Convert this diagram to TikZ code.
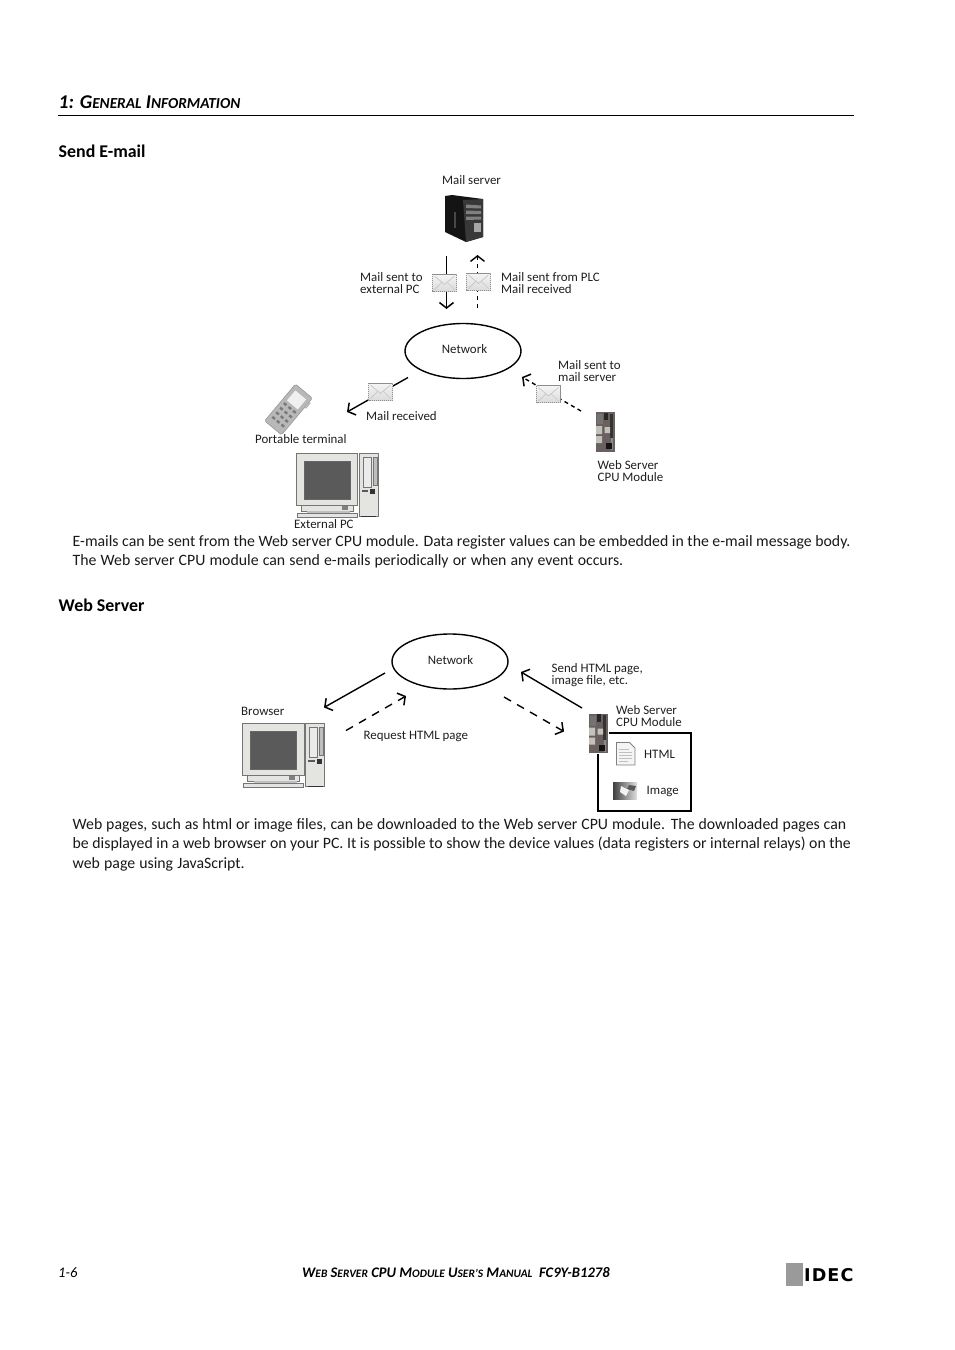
\documentclass[tikz,border=0pt]{standalone}
\usepackage{fontspec}
\setmainfont{Carlito}
\newfontfamily\logofont[LetterSpace=6]{DejaVu Sans}
\usetikzlibrary{arrows.meta,shapes.geometric}
\definecolor{envedge}{HTML}{8E8E8A}
\definecolor{modbody}{HTML}{6A6060}
\definecolor{modlight}{HTML}{C2C2B8}
\definecolor{pcface}{HTML}{E4E4E0}
\definecolor{pcscreen}{HTML}{5A5A5A}
\definecolor{pcedge}{HTML}{757575}
\definecolor{logogrey}{HTML}{9A9A9A}
\tikzset{
  x=1pt,y=-1pt,
  lbl/.style={inner sep=0pt,anchor=west,align=left,font=\fontsize{12.9}{12}\selectfont,text=black!88},
  body/.style={inner sep=0pt,anchor=north west,align=left,font=\fontsize{15.8}{19.5}\selectfont,text=black!90},
  head/.style={inner sep=0pt,anchor=base west,font=\bfseries\fontsize{17.9}{18}\selectfont,text=black},
  netw/.style={draw=black,line width=1.4pt,shape=ellipse,minimum width=116pt,minimum height=55pt,inner sep=0pt},
  solidarrow/.style={draw=black,line width=1.4pt,-{Straight Barb[length=5.5pt,width=14pt,line width=1.5pt]}},
  dasharrow/.style={draw=black,line width=1.4pt,dash pattern=on 8pt off 7pt,-{Straight Barb[length=5.5pt,width=14pt,line width=1.5pt]}},
  thinsolid/.style={solidarrow,line width=1.1pt},
  thindash/.style={draw=black,line width=1.1pt,dash pattern=on 4pt off 4pt,-{Straight Barb[length=5.5pt,width=14pt,line width=1.4pt]}},
  pics/envelope/.style={code={
    \shade[top color=black!4,bottom color=black!14] (-12,-8.5) rectangle (12,8.5);
    \draw[envedge,line width=.8pt,dash pattern=on 1.2pt off .8pt] (-12,-8.5) rectangle (12,8.5);
    \draw[black!22,line width=.7pt] (-10,-6.5) -- (0,2) -- (10,-6.5) (-10,7) -- (-3,0) (10,7) -- (3,0);
  }},
  pics/pcset/.style={code={
    \fill[pcface,draw=pcedge,line width=.8pt] (0,0) rectangle (61.5,52);
    \fill[pcscreen,draw=black!60,line width=.5pt] (8,8) rectangle (54,46);
    \fill[pcface,draw=pcedge,line width=.7pt] (5,52) rectangle (57,58);
    \fill[black!25] (11,58) rectangle (54,60);
    \fill[pcface,draw=pcedge,line width=.7pt] (1,60) rectangle (61,64);
    \fill[black!50] (46,53) rectangle (52,57);
    \fill[pcface,draw=pcedge,line width=.8pt] (63,0) rectangle (82,63.5);
    \fill[black!8,draw=pcedge,line width=.5pt] (67,4) rectangle (75,34);
    \fill[black!25,draw=pcedge,line width=.4pt] (77,4) rectangle (81,32);
    \fill[black!65] (65.5,37) rectangle (72,39);
    \fill[black!80] (74,35.5) rectangle (79,41);
    \fill[black!80] (65,62.5) rectangle (80,64);
  }},
  pics/cpumodule/.style={code={
    \fill[modbody] (0.5,0) rectangle (19.5,39.5);
    \fill[black!85] (9,0.5) rectangle (13,8);
    \fill[black!80] (15,1.5) rectangle (18,26);
    \fill[black!45] (15.5,26) rectangle (18,38);
    \fill[modlight] (1,14) rectangle (7,22) (1,24) rectangle (7,31) (9.5,15) rectangle (15,21);
    \fill[black!92] (11,31) rectangle (17,37);
    \fill[black!55] (2,2) rectangle (8,12);
  }}
}
\begin{document}
\begin{tikzpicture}
\useasboundingbox (0,0) rectangle (954,1350);
\fill[white] (0,0) rectangle (954,1350);

% header
\node[head,font=\bfseries\itshape\fontsize{19.5}{19.5}\selectfont] (title) at (58.5,108) {1: G{\fontsize{15.3}{15.3}\selectfont ENERAL} I{\fontsize{15.3}{15.3}\selectfont NFORMATION}};
\coordinate (ruleL) at (58,115.5);
\coordinate (ruleR) at (854,115.5);
\draw[black,line width=.8pt] (ruleL) -- (ruleR);
\node[head] (h1) at (58.5,157) {Send E-mail};
\node[head] (h2) at (58.5,611) {Web Server};

% ---- Send e-mail diagram ----
\node[lbl] (lmail) at (442,180) {Mail server};
\fill[black!92] (445,196) -- (452,195) -- (483,199) -- (483,237) -- (466,242) -- (445,232) -- cycle;
\fill[black!78] (463,200) -- (483,199) -- (483,237) -- (466,242) -- cycle;
\fill[black!72] (454,212) -- (456,212) -- (456,228) -- (454,228) -- cycle;
\fill[black!50] (466,204.5) -- (481,205.5) -- (481,208.5) -- (466,208) -- cycle
  (466,210.5) -- (481,211) -- (481,214) -- (466,214) -- cycle
  (466,216.5) -- (481,216.5) -- (481,219.5) -- (466,220) -- cycle;
\fill[black!35] (474,223) rectangle (481,232);

\coordinate (a1s) at (446.5,256);
\coordinate (a1e) at (446.5,309);
\coordinate (a2s) at (477.5,308);
\coordinate (a2e) at (477.5,255);
\draw[thinsolid] (a1s) -- (a1e);
\draw[thindash] (a2s) -- (a2e);
\pic at (444.5,282.5) {envelope};
\pic at (478.5,281.5) {envelope};
\node[lbl] (lext) at (360,283) {Mail sent to\\external PC};
\node[lbl] (lfrom) at (501,283) {Mail sent from PLC\\Mail received};

\node[netw] (net1) at (463,351) {};
\node[lbl,anchor=center] (lnet1) at (464.5,349) {Network};

\coordinate (a3s) at (408,377.5);
\coordinate (a3e) at (347,412);
\coordinate (a4s) at (581,411);
\coordinate (a4e) at (522,377);
\draw[solidarrow] (a3s) -- (a3e);
\draw[dasharrow,dash pattern=on 4pt off 3.5pt] (a4s) -- (a4e);
\pic at (380.5,391.5) {envelope};
\pic at (548.5,394) {envelope};
\node[lbl] (lrec) at (366,416) {Mail received};
\node[lbl] (lsrv) at (558,371) {Mail sent to\\mail server};

\begin{scope}[shift={(288.5,409.5)},rotate=-40]
\fill[black!28,draw=black!40,line width=.6pt,rounded corners=1.5pt] (-11,-24) rectangle (11,24);
\fill[black!28] (11,-19) rectangle (13,-12);
\fill[black!6] (-7,-19) rectangle (7,-6);
\foreach \yy in {-2,4,10,16}{\foreach \xx in {-6,0,6}{\fill[black!52] (\xx-1.7,\yy-1.2) rectangle (\xx+1.7,\yy+1.2);}}
\end{scope}
\node[lbl] (lport) at (255,439) {Portable terminal};
\pic at (296,453) {pcset};
\node[lbl] (lpc) at (294,524) {External PC};
\pic at (595,412) {cpumodule};
\node[lbl] (lweb1) at (597.5,471) {Web Server\\CPU Module};

\node[body] (p1) at (72.5,535) {E-mails can be sent from the Web server CPU module. Data register values can be embedded in the e-mail message body.\\\makebox[550.5pt][s]{The Web server CPU module can send e-mails periodically or when any event occurs.}};

% ---- Web server diagram ----
\node[netw] (net2) at (450,661.5) {};
\node[lbl,anchor=center] (lnet2) at (450.5,660) {Network};
\coordinate (b1s) at (385,673);
\coordinate (b1e) at (324,707.5);
\coordinate (b2s) at (346,730.5);
\coordinate (b2e) at (406,696);
\coordinate (b3s) at (504,697);
\coordinate (b3e) at (564,731.5);
\coordinate (b4s) at (582,708);
\coordinate (b4e) at (521,672);
\draw[solidarrow] (b1s) -- (b1e);
\draw[dasharrow] (b2s) -- (b2e);
\draw[dasharrow] (b3s) -- (b3e);
\draw[solidarrow] (b4s) -- (b4e);
\node[lbl] (lbrow) at (241,711.5) {Browser};
\pic at (242.5,723) {pcset};
\node[lbl] (lreq) at (363.5,736) {Request HTML page};
\node[lbl] (lsend) at (551.5,675) {Send HTML page,\\image file, etc.};
\node[lbl] (lweb2) at (616,716) {Web Server\\CPU Module};
\pic at (588,713.5) {cpumodule};
\coordinate (bx0) at (609,733);
\coordinate (bx1) at (690.5,733);
\coordinate (bx2) at (690.5,810.5);
\coordinate (bx3) at (597.5,810.5);
\coordinate (bx4) at (597.5,754);
\draw[black,line width=2pt] (bx0) -- (bx1) -- (bx2) -- (bx3) -- (bx4);
\fill[black!4,draw=black!50,line width=.8pt] (616.5,742.5) -- (629.5,742.5) -- (635,748) -- (635,765) -- (616.5,765) -- cycle;
\draw[black!25,line width=.5pt] (619,749) -- (629,749) (619,752) -- (632,752) (619,755) -- (632,755) (619,758) -- (632,758) (619,761) -- (628,761);
\node[lbl] (lhtml) at (644,754.5) {HTML};
\shade[left color=black!75,right color=black!12] (613,782.5) rectangle (637,799.5);
\fill[black!65] (629,785) -- (636,786) -- (634,791) -- (627,789) -- cycle;
\fill[black!5] (621,786) -- (629,790) -- (626,796) -- (620,792) -- cycle;
\node[lbl] (limg) at (646.5,791) {Image};

\node[body] (p2) at (72.5,818) {\makebox[773.5pt][s]{Web pages, such as html or image files, can be downloaded to the Web server CPU module. The downloaded pages can}\\be displayed in a web browser on your PC. It is possible to show the device values (data registers or internal relays) on the\\\makebox[172pt][s]{web page using JavaScript.}};

% footer
\node[inner sep=0pt,anchor=base west,font=\itshape\fontsize{14.6}{14.6}\selectfont] (pg) at (58,1277) {1-6};
\node[inner sep=0pt,anchor=base west,font=\bfseries\itshape\fontsize{14.6}{14.6}\selectfont] (foot) at (302,1277) {W{\fontsize{11.4}{11.4}\selectfont EB} S{\fontsize{11.4}{11.4}\selectfont ERVER} CPU M{\fontsize{11.4}{11.4}\selectfont ODULE} U{\fontsize{11.4}{11.4}\selectfont SER’S} M{\fontsize{11.4}{11.4}\selectfont ANUAL}\ \ FC9Y-B1278};
\fill[logogrey] (786,1263) rectangle (803,1286);
\node[inner sep=0pt,anchor=base west,font=\logofont\bfseries\fontsize{17.6}{17.6}\selectfont] (logo) at (804,1281) {IDEC};
\end{tikzpicture}
\end{document}
